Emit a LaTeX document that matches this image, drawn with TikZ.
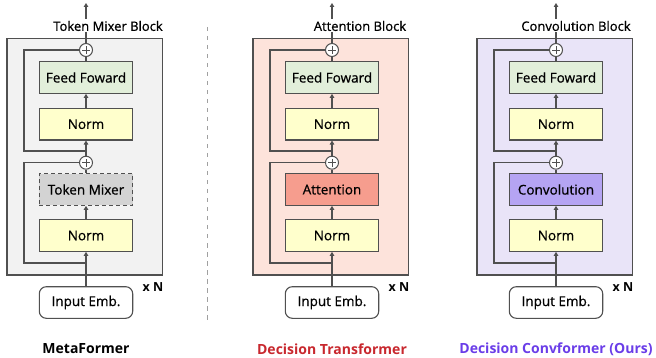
\documentclass[tikz,border=0pt]{standalone}
\usepackage{fontspec}
\setmainfont{Open Sans}
\newfontfamily\medfont[FakeBold=0.7]{Open Sans}
\usetikzlibrary{arrows.meta}
\definecolor{edgecol}{HTML}{505050}
\definecolor{bgA}{HTML}{F2F2F2}
\definecolor{bgB}{HTML}{FDE3DB}
\definecolor{bgC}{HTML}{E9E4F8}
\definecolor{ffcol}{HTML}{E2EFDA}
\definecolor{normcol}{HTML}{FFFFCC}
\definecolor{mixcol}{HTML}{D3D3D3}
\definecolor{attcol}{HTML}{F69D8E}
\definecolor{convcol}{HTML}{B5A4F3}
\definecolor{redlab}{HTML}{C8282E}
\definecolor{purlab}{HTML}{6A3DE8}
\definecolor{sepcol}{HTML}{A0A0A0}
\tikzset{
  outerbox/.style={draw=edgecol, line width=1.3pt, minimum width=155.5pt, minimum height=236.5pt, inner sep=0pt},
  block/.style={draw=edgecol, line width=1.1pt, minimum width=93.4pt, minimum height=31.6pt, inner sep=0pt, font=\medfont\fontsize{13.5}{15}\selectfont},
  inbox/.style={block, fill=white, rounded corners=7pt},
  plusnode/.style={circle, draw=edgecol, line width=1pt, fill=white, minimum size=13pt, inner sep=0pt,
    path picture={\draw[edgecol, line width=0.8pt] ([xshift=-4pt]path picture bounding box.center) -- ([xshift=4pt]path picture bounding box.center);
                  \draw[edgecol, line width=0.8pt] ([yshift=-4pt]path picture bounding box.center) -- ([yshift=4pt]path picture bounding box.center);}},
  conn/.style={draw=edgecol, line width=1.3pt},
  arr/.style={conn, -{Triangle[length=4pt,width=4.5pt]}},
  titletext/.style={fill=white, inner sep=1.5pt, font=\medfont\fontsize{13}{15}\selectfont},
  xn/.style={font=\bfseries\fontsize{12.5}{14}\selectfont},
  bottomlab/.style={font=\bfseries\fontsize{14}{16}\selectfont}
}
\newcommand{\drawpanel}[9]{%
  \begin{scope}[shift={(#2,0)}]
    \node[outerbox, fill=#3] (#1box) at (-1.25,156.75) {};
    \node[block, fill=ffcol] (#1ff) at (0,77.5) {Feed Foward};
    \node[block, fill=normcol] (#1na) at (0,124.2) {Norm};
    \node[block, #4] (#1mix) at (0,189.5) {#5};
    \node[block, fill=normcol] (#1nb) at (0,235.5) {Norm};
    \node[inbox] (#1in) at (0,302.5) {Input Emb.};
    \node[plusnode] (#1pa) at (0,50) {};
    \node[plusnode] (#1pb) at (0,162.7) {};
    \coordinate (#1ba) at (0,151);
    \coordinate (#1ca) at (-62,50);
    \coordinate (#1bb) at (0,263);
    \coordinate (#1cb) at (-62,162.7);
    \coordinate (#1top) at (0,3);
    \draw[arr] (#1in) -- (#1nb);
    \draw[conn] (#1bb) -| (#1cb) -- (#1pb);
    \draw[arr] (#1nb) -- (#1mix);
    \draw[conn] (#1mix) -- (#1pb);
    \draw[arr] (#1pb) -- (#1na);
    \draw[conn] (#1ba) -| (#1ca) -- (#1pa);
    \draw[arr] (#1na) -- (#1ff);
    \draw[conn] (#1ff) -- (#1pa);
    \draw[arr] (#1pa) -- (#1top);
    \node[titletext] (#1title) at (#6,26) {#7};
    \node[xn] (#1xn) at (67,287) {x N};
    \node[bottomlab, text=#9] (#1lab) at (0,349) {#8};
  \end{scope}}
\begin{document}
\begin{tikzpicture}[x=1pt,y=-1pt]
  \useasboundingbox (0,0) rectangle (656,358);
  \drawpanel{m}{86}{bgA}{fill=mixcol, dashed, dash pattern=on 4pt off 3pt}{Token Mixer}{22}{Token Mixer Block}{MetaFormer}{black}
  \drawpanel{t}{332}{bgB}{fill=attcol}{Attention}{28}{Attention Block}{Decision Transformer}{redlab}
  \drawpanel{c}{556}{bgC}{fill=convcol}{Convolution}{20}{Convolution Block}{Decision Convformer (Ours)}{purlab}
  \coordinate (septop) at (207.7,27);
  \coordinate (sepbot) at (207.7,323);
  \draw[sepcol, line width=1.5pt, dash pattern=on 4.5pt off 4.5pt] (septop) -- (sepbot);
\end{tikzpicture}
\end{document}
